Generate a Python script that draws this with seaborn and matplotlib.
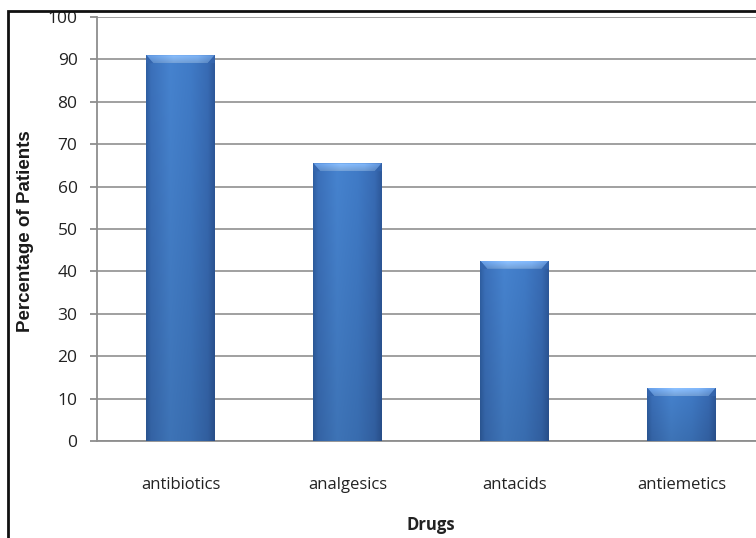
import numpy as np
import pandas as pd
import matplotlib
matplotlib.use("Agg")
import matplotlib.pyplot as plt
from matplotlib.patches import Polygon, Rectangle
from matplotlib.colors import LinearSegmentedColormap
import seaborn as sns

drugs = ["antibiotics", "analgesics", "antacids", "antiemetics"]
percent_patients = [91, 65.5, 42.5, 12.5]
y_ticks = [0, 10, 20, 30, 40, 50, 60, 70, 80, 90, 100]

df = pd.DataFrame({"Drugs": drugs, "Percentage of Patients": percent_patients})

sns.set_theme(style="white")
plt.rcParams["font.family"] = ["Open Sans", "DejaVu Sans"]

W, H = 756, 538
fig = plt.figure(figsize=(W / 100, H / 100), dpi=100)
fig.patch.set_facecolor("white")

# plot area: y axis at x=97, zero line at y=441, top at y=17; right edge runs past the figure
left_px, right_px, top_px, bottom_px = 97, 765, 17, 441
ax = fig.add_axes([left_px / W, 1 - bottom_px / H,
                   (right_px - left_px) / W, (bottom_px - top_px) / H])

sns.barplot(data=df, x="Drugs", y="Percentage of Patients", color="#3d74be",
            width=0.41, ax=ax, zorder=3, linewidth=0)

ax.set_ylim(0, 100)
ax.set_xlim(-0.5, 3.5)
ax.set_yticks(y_ticks)
ax.yaxis.grid(True, color="#999999", linewidth=1.3, zorder=0)
ax.set_axisbelow(True)
for s in ["top", "right"]:
    ax.spines[s].set_visible(False)
for s in ["left", "bottom"]:
    ax.spines[s].set_color("#8e8e8e")
    ax.spines[s].set_linewidth(1.3)
ax.tick_params(axis="y", which="major", direction="out", length=5, width=1.3,
               color="#8e8e8e", left=True, labelsize=12.5, labelcolor="#222222", pad=9)
ax.tick_params(axis="x", bottom=False, labelsize=12, labelcolor="#222222", pad=20)
ax.set_xlabel("Drugs", fontsize=12, fontweight="bold", color="#222222")
ax.xaxis.set_label_coords(0.5, -(525 - bottom_px) / (bottom_px - top_px))
ax.xaxis.label.set_verticalalignment("center")
ax.set_ylabel("Percentage of Patients", fontsize=13.5, fontweight="bold",
              color="#1a1a1a", family=["Liberation Sans", "DejaVu Sans"])
ax.yaxis.set_label_coords(-(left_px - 26) / (right_px - left_px),
                          1 - (231 - top_px) / (bottom_px - top_px))
ax.yaxis.label.set_verticalalignment("center")

# cylindrical shading across each bar, darker toward the edges and bottom
body_cmap = LinearSegmentedColormap.from_list(
    "body", [(0.0, "#2f5fa2"), (0.07, "#3b70ba"), (0.35, "#4683cf"),
             (0.65, "#407bc7"), (0.9, "#386bb4"), (1.0, "#2d589a")])
cap_cmap = LinearSegmentedColormap.from_list(
    "cap", [(0.0, "#5f94da"), (0.4, "#82b4f0"), (0.75, "#78abea"), (1.0, "#5a8cd0")])

xs = np.linspace(0, 1, 200)
ys = np.linspace(0, 1, 100)[:, None]
units_per_px_x = 4.0 / (right_px - left_px)
units_per_px_y = 100.0 / (bottom_px - top_px)

for bar in ax.patches:
    x0, w, h = bar.get_x(), bar.get_width(), bar.get_height()
    rgba = body_cmap(np.tile(xs, (100, 1)))
    shade = 0.88 + 0.12 * ys  # row 0 is the bottom (origin='lower')
    rgba[..., :3] *= shade[..., None]
    im = ax.imshow(rgba, extent=(x0, x0 + w, 0, h), origin="lower",
                   aspect="auto", zorder=3.5, interpolation="bilinear")
    im.set_clip_path(bar)

    # bevelled top cap
    dy = 8 * units_per_px_y
    dx = 7 * units_per_px_x
    cap = Polygon([(x0, h), (x0 + w, h), (x0 + w - dx, h - dy), (x0 + dx, h - dy)],
                  closed=True, facecolor="none", edgecolor="none", zorder=4)
    ax.add_patch(cap)
    cap_rgba = cap_cmap(np.tile(xs, (20, 1)))
    vert = np.linspace(0.9, 1.08, 20)[:, None]
    cap_rgba[..., :3] = np.clip(cap_rgba[..., :3] * vert[..., None], 0, 1)
    cim = ax.imshow(cap_rgba, extent=(x0, x0 + w, h - dy, h), origin="lower",
                    aspect="auto", zorder=4, interpolation="bilinear")
    cim.set_clip_path(cap)
    # darker side bevels at the cap corners
    for pts in ([(x0, h), (x0 + dx, h - dy), (x0, h - dy)],
                [(x0 + w, h), (x0 + w - dx, h - dy), (x0 + w, h - dy)]):
        ax.add_patch(Polygon(pts, closed=True, facecolor="#3566ae",
                             edgecolor="none", zorder=4.2, alpha=0.9))

ax.set_xlim(-0.5, 3.5)
ax.set_ylim(0, 100)

# outer frame of the chart box (runs off the right and bottom edges)
fig.add_artist(Rectangle((8 / W, -0.05), 1.2, 1.05 - 11 / H,
                         transform=fig.transFigure, fill=False,
                         edgecolor="#111111", linewidth=2, zorder=10))

fig.savefig("out.png", dpi=100, facecolor="white")
